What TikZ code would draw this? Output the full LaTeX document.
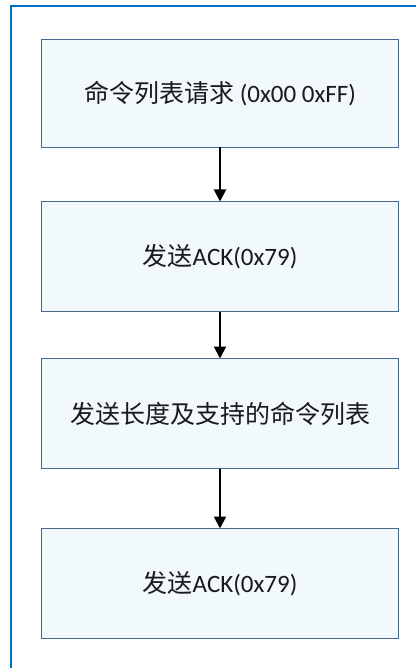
\documentclass[tikz,border=0pt]{standalone}
\usepackage{fontspec}
\setmainfont{Carlito}
\newfontfamily\cjk{Noto Sans CJK SC}
\usetikzlibrary{arrows.meta}
\definecolor{framecol}{HTML}{0070C0}
\definecolor{boxborder}{HTML}{46698F}
\definecolor{boxfill}{HTML}{F2F9FD}
\definecolor{txtcol}{HTML}{1A1A1A}
\tikzset{
  frameline/.style={draw=framecol, line width=2pt},
  stepbox/.style={draw=boxborder, fill=boxfill, line width=1.6pt, minimum width=357pt,
    inner sep=0pt, outer sep=0pt, text=txtcol, font=\fontsize{25}{29}\selectfont},
  flowarrow/.style={draw=black, line width=2pt, -{Triangle[width=12pt,length=12pt]}}
}
\begin{document}
\begin{tikzpicture}[x=1pt,y=-1pt]
\useasboundingbox (0,0) rectangle (416,668);
\draw[frameline] (11,668) -- (11,6) -- (416,6);
\node[stepbox, minimum height=108pt] (b1) at (220,93.5) {{\cjk 命令列表请求} (0x00 0xFF)};
\node[stepbox, minimum height=110pt] (b2) at (220,256.5) {{\cjk 发送}ACK(0x79)};
\node[stepbox, minimum height=110pt] (b3) at (220,413.5) {\cjk 发送长度及支持的命令列表};
\node[stepbox, minimum height=110pt] (b4) at (220,583.5) {{\cjk 发送}ACK(0x79)};
\draw[flowarrow] (b1) -- (b2);
\draw[flowarrow] (b2) -- (b3);
\draw[flowarrow] (b3) -- (b4);
\end{tikzpicture}
\end{document}
